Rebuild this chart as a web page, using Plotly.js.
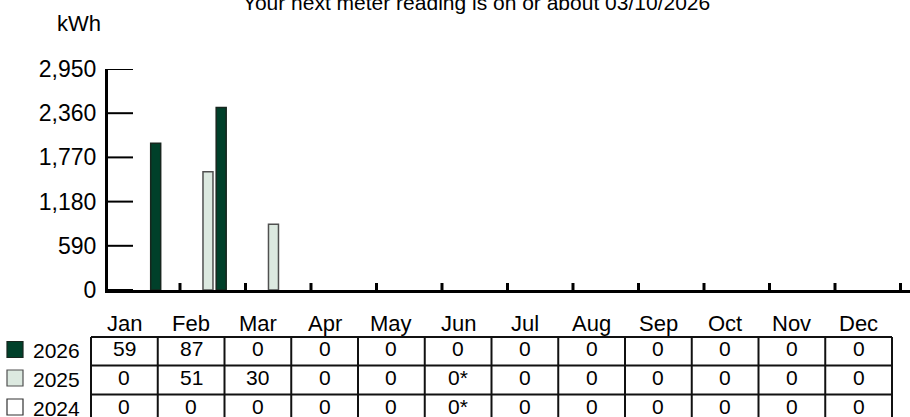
<!DOCTYPE html>
<html>
<head>
<meta charset="utf-8">
<script src="https://cdn.plot.ly/plotly-3.0.1.min.js"></script>
<style>html,body{margin:0;padding:0;background:#fff;}</style>
</head>
<body>
<div id="chart" style="width:910px;height:417px;"></div>
<script>
// ---- data ----
const months = ['Jan','Feb','Mar','Apr','May','Jun','Jul','Aug','Sep','Oct','Nov','Dec'];
const years = ['2026','2025','2024'];
const kwh2026 = [1960, 2436, 0, 0, 0, 0, 0, 0, 0, 0, 0, 0];
const kwh2025 = [0, 1580, 878, 0, 0, 0, 0, 0, 0, 0, 0, 0];
const kwh2024 = [0, 0, 0, 0, 0, 0, 0, 0, 0, 0, 0, 0];
const yTicks = [0, 590, 1180, 1770, 2360, 2950];
const tbl2026 = [59, 87, 0, 0, 0, 0, 0, 0, 0, 0, 0, 0];
const tbl2025 = [0, 51, 30, 0, 0, 0, 0, 0, 0, 0, 0, 0];
const tbl2024 = [0, 0, 0, 0, 0, 0, 0, 0, 0, 0, 0, 0];
const est2026 = [0, 0, 0, 0, 0, 0, 0, 0, 0, 0, 0, 0];
const est2025 = [0, 0, 0, 0, 0, 1, 0, 0, 0, 0, 0, 0];
const est2024 = [0, 0, 0, 0, 0, 1, 0, 0, 0, 0, 0, 0];
const titleText = 'Your next meter reading is on or about 03/10/2026';
const unitText = 'kWh';

// ---- styling / layout helpers ----
const FONT = 'Liberation Sans, Arial, Helvetica, sans-serif';
const W = 910, H = 417;
const M = {l: 108, r: 0, t: 69, b: 127};
const PW = W - M.l - M.r, PH = H - M.t - M.b;
const px = p => (p - M.l) / PW;
const py = p => (H - M.b - p) / PH;

const colors = {'2026': '#00402a', '2025': '#dce9e0', '2024': '#ffffff'};
const lineColors = {'2026': '#17261e', '2025': '#505050', '2024': '#333333'};
const xs = months.map((m, i) => i);

const barW = 0.1527;
const offsets = {'2026': 0.0527, '2025': -0.149, '2024': -0.350};
const series = {'2026': kwh2026, '2025': kwh2025, '2024': kwh2024};

const traces = ['2024', '2025', '2026'].map(yr => ({
  type: 'bar',
  name: yr,
  x: xs,
  y: series[yr].map(v => (v === 0 ? null : v)),
  width: barW,
  offset: offsets[yr],
  marker: {color: colors[yr], line: {color: lineColors[yr], width: 1.5}},
  hoverinfo: 'skip',
  showlegend: false
}));

const shapes = [];
const annotations = [];

// axis tick marks (inside)
yTicks.forEach(v => {
  shapes.push({type: 'line', xref: 'paper', yref: 'y', x0: 0, x1: 25 / PW, y0: v, y1: v,
    line: {color: '#000', width: 2}, layer: 'above'});
});
months.forEach((m, i) => {
  shapes.push({type: 'line', xref: 'x', yref: 'paper', x0: i + 0.5, x1: i + 0.5, y0: 0, y1: 7 / PH,
    line: {color: '#000', width: 3}, layer: 'above'});
});

// unit label
annotations.push({xref: 'paper', yref: 'paper', x: px(79), y: py(23), text: unitText,
  showarrow: false, xanchor: 'center', yanchor: 'middle', font: {family: FONT, size: 22, color: '#000'}});

// table geometry
const tL = 91, colW = 66.75;
const rowTops = [337, 365.5, 394.5, 423.5];
const tR = tL + colW * months.length;

// month header labels
months.forEach((m, i) => {
  annotations.push({xref: 'paper', yref: 'paper', x: px(tL + colW * (i + 0.5)), y: py(323),
    text: m, showarrow: false, xanchor: 'center', yanchor: 'middle',
    font: {family: FONT, size: 22, color: '#000'}});
});

// table lines
rowTops.forEach(r => {
  shapes.push({type: 'line', xref: 'paper', yref: 'paper', x0: px(tL), x1: px(tR), y0: py(r), y1: py(r),
    line: {color: '#111', width: 2}});
});
for (let k = 0; k <= months.length; k++) {
  shapes.push({type: 'line', xref: 'paper', yref: 'paper', x0: px(tL + colW * k), x1: px(tL + colW * k),
    y0: py(rowTops[0]), y1: py(rowTops[3]), line: {color: '#111', width: 2}});
}

// table values
const tblRows = [[tbl2026, est2026], [tbl2025, est2025], [tbl2024, est2024]];
tblRows.forEach(([vals, est], r) => {
  const yc = rowTops[r] + 11.5;
  vals.forEach((v, i) => {
    annotations.push({xref: 'paper', yref: 'paper', x: px(tL + colW * (i + 0.5)), y: py(yc),
      text: String(v) + (est[i] ? '*' : ''), showarrow: false, xanchor: 'center', yanchor: 'middle',
      font: {family: FONT, size: 21, color: '#000'}});
  });
});

// legend squares + labels
years.forEach((yr, r) => {
  const top = rowTops[r] + 4.5;
  shapes.push({type: 'rect', xref: 'paper', yref: 'paper', x0: px(7), x1: px(23), y0: py(top), y1: py(top + 16),
    fillcolor: colors[yr], line: {color: lineColors[yr], width: 1.2}});
  annotations.push({xref: 'paper', yref: 'paper', x: px(31), y: py(top + 9), text: yr, showarrow: false,
    xanchor: 'left', yanchor: 'middle', font: {family: FONT, size: 21, color: '#000'}});
});

const layout = {
  width: W, height: H,
  margin: {l: M.l, r: M.r, t: M.t, b: M.b, pad: 0},
  paper_bgcolor: '#fff', plot_bgcolor: '#fff',
  font: {family: FONT, color: '#000'},
  barmode: 'overlay',
  title: {text: titleText, font: {family: FONT, size: 21, color: '#000'},
    x: 476.5 / W, xref: 'container', xanchor: 'center', y: 1 - 3 / H, yref: 'container', yanchor: 'middle'},
  xaxis: {
    range: [-0.599, 11.645], showgrid: false, zeroline: false, showline: true, linewidth: 3, linecolor: '#000',
    ticks: '', showticklabels: false, fixedrange: true
  },
  yaxis: {
    range: [0, 2950], showgrid: false, zeroline: false, showline: true, linewidth: 3, linecolor: '#000',
    tickmode: 'array', tickvals: yTicks, tickformat: ',d', ticks: '', ticklabelstandoff: 4,
    tickfont: {family: FONT, size: 23, color: '#000'}, fixedrange: true
  },
  shapes: shapes,
  annotations: annotations
};

Plotly.newPlot('chart', traces, layout, {displayModeBar: false, staticPlot: true});
</script>
</body>
</html>
